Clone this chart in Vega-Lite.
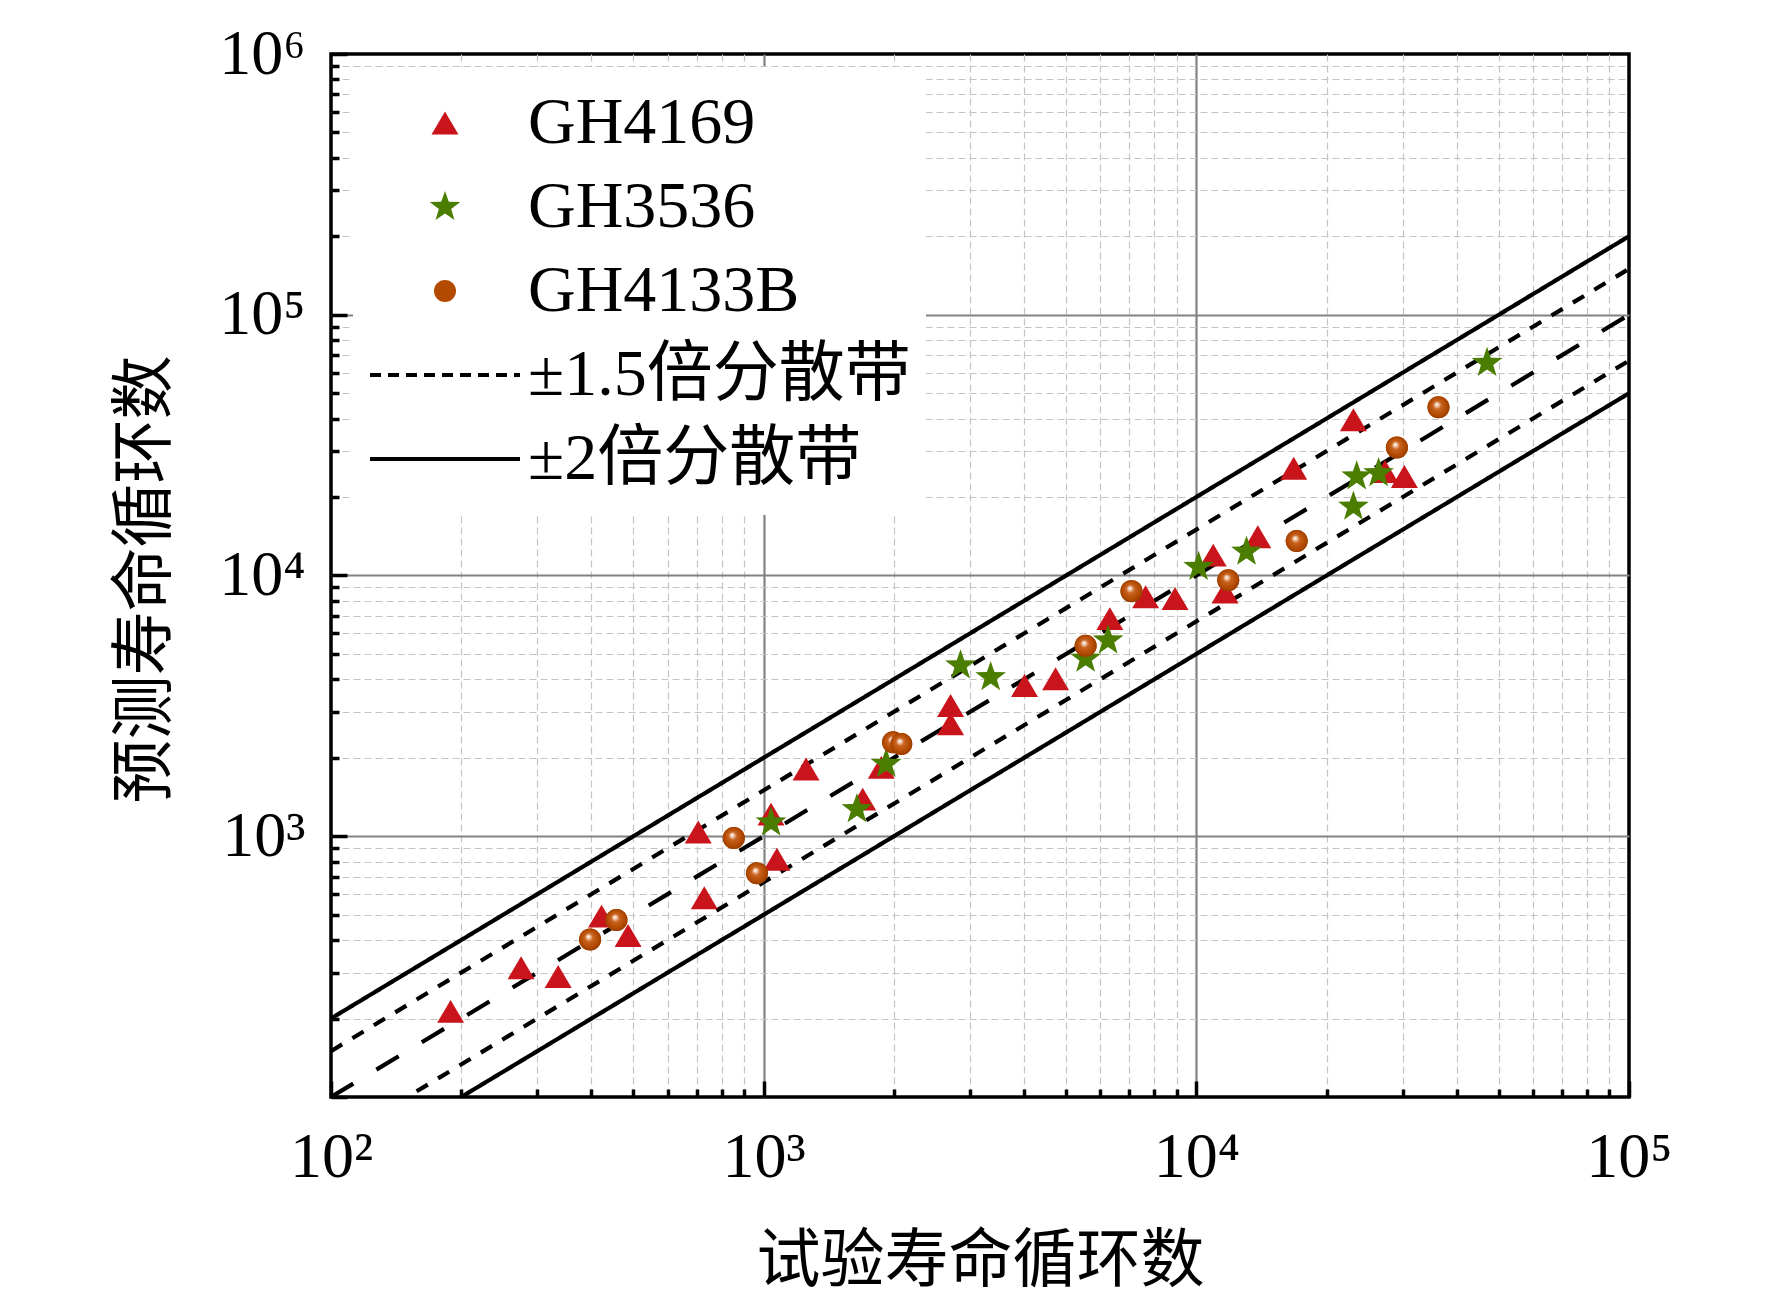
{
  "$schema": "https://vega.github.io/schema/vega-lite/v6.json",
  "width": 1298,
  "height": 1043,
  "autosize": {"type": "none"},
  "padding": {"left": 331, "top": 54, "right": 143, "bottom": 201},
  "background": "white",
  "config": {
    "view": {"stroke": "black", "strokeWidth": 3.5},
    "font": "Liberation Serif"
  },
  "datasets": {
    "bands": [
      {"band": "center", "line": "c", "x": 100, "y": 100},
      {"band": "center", "line": "c", "x": 100000, "y": 100000},
      {"band": "d15", "line": "d+", "x": 100, "y": 150},
      {"band": "d15", "line": "d+", "x": 100000, "y": 150000},
      {"band": "d15", "line": "d-", "x": 100, "y": 66.67},
      {"band": "d15", "line": "d-", "x": 100000, "y": 66667},
      {"band": "d2", "line": "s+", "x": 100, "y": 200},
      {"band": "d2", "line": "s+", "x": 100000, "y": 200000},
      {"band": "d2", "line": "s-", "x": 100, "y": 50},
      {"band": "d2", "line": "s-", "x": 100000, "y": 50000}
    ],
    "points": [
      {"series": "GH4169", "x": 189, "y": 213},
      {"series": "GH4169", "x": 275, "y": 313},
      {"series": "GH4169", "x": 335, "y": 290},
      {"series": "GH4169", "x": 422, "y": 494},
      {"series": "GH4169", "x": 486, "y": 416},
      {"series": "GH4169", "x": 729, "y": 581},
      {"series": "GH4169", "x": 706, "y": 1039},
      {"series": "GH4169", "x": 1073, "y": 816},
      {"series": "GH4169", "x": 1040, "y": 1216},
      {"series": "GH4169", "x": 1253, "y": 1810},
      {"series": "GH4169", "x": 1694, "y": 1388},
      {"series": "GH4169", "x": 1870, "y": 1837},
      {"series": "GH4169", "x": 2704, "y": 3170},
      {"series": "GH4169", "x": 2704, "y": 2697},
      {"series": "GH4169", "x": 4008, "y": 3784},
      {"series": "GH4169", "x": 4728, "y": 4015},
      {"series": "GH4169", "x": 6310, "y": 6833},
      {"series": "GH4169", "x": 7634, "y": 8285},
      {"series": "GH4169", "x": 8930, "y": 8165},
      {"series": "GH4169", "x": 10940, "y": 11970},
      {"series": "GH4169", "x": 11650, "y": 8650},
      {"series": "GH4169", "x": 13870, "y": 14090},
      {"series": "GH4169", "x": 16790, "y": 25800},
      {"series": "GH4169", "x": 23070, "y": 39540},
      {"series": "GH4169", "x": 27300, "y": 25060},
      {"series": "GH4169", "x": 30260, "y": 23990},
      {"series": "GH3536", "x": 1040, "y": 1129},
      {"series": "GH3536", "x": 1643, "y": 1270},
      {"series": "GH3536", "x": 1919, "y": 1892},
      {"series": "GH3536", "x": 2851, "y": 4521},
      {"series": "GH3536", "x": 3347, "y": 4075},
      {"series": "GH3536", "x": 5548, "y": 4795},
      {"series": "GH3536", "x": 6253, "y": 5636},
      {"series": "GH3536", "x": 10120, "y": 10790},
      {"series": "GH3536", "x": 13060, "y": 12330},
      {"series": "GH3536", "x": 23070, "y": 18370},
      {"series": "GH3536", "x": 23480, "y": 23990},
      {"series": "GH3536", "x": 26380, "y": 24670},
      {"series": "GH3536", "x": 46990, "y": 65310},
      {"series": "GH4133B", "x": 397, "y": 402},
      {"series": "GH4133B", "x": 457, "y": 477},
      {"series": "GH4133B", "x": 853, "y": 985},
      {"series": "GH4133B", "x": 965, "y": 721},
      {"series": "GH4133B", "x": 1991, "y": 2292},
      {"series": "GH4133B", "x": 2080, "y": 2258},
      {"series": "GH4133B", "x": 5548, "y": 5373},
      {"series": "GH4133B", "x": 7081, "y": 8710},
      {"series": "GH4133B", "x": 11850, "y": 9593},
      {"series": "GH4133B", "x": 17060, "y": 13550},
      {"series": "GH4133B", "x": 29080, "y": 30980},
      {"series": "GH4133B", "x": 36280, "y": 44160}
    ]
  },
  "encoding": {
    "x": {
      "field": "x",
      "type": "quantitative",
      "scale": {"type": "log", "domain": [100, 100000]},
      "axis": {
        "values": [100, 200, 300, 400, 500, 600, 700, 800, 900, 1000, 2000, 3000, 4000, 5000, 6000, 7000, 8000, 9000, 10000, 20000, 30000, 40000, 50000, 60000, 70000, 80000, 90000, 100000],
        "title": "试验寿命循环数",
        "titleFont": "Noto Sans CJK SC",
        "titleFontSize": 64,
        "titleFontWeight": "normal",
        "titleColor": "black",
        "titleX": 649,
        "titleY": 164,
        "titleAlign": "center",
        "titleBaseline": "middle",
        "labelExpr": "datum.value == 100 ? '10²' : datum.value == 1000 ? '10³' : datum.value == 10000 ? '10⁴' : datum.value == 100000 ? '10⁵' : ''",
        "labelFont": "Liberation Serif",
        "labelFontSize": 64,
        "labelColor": "black",
        "labelFlush": false,
        "labelOverlap": false,
        "labelPadding": 44,
        "domain": false,
        "tickColor": "black",
        "tickWidth": 3.5,
        "tickSize": {"condition": {"test": "indexof([100, 1000, 10000, 100000, 1000000], datum.value) >= 0", "value": -16}, "value": -8},
        "grid": true,
        "gridColor": {"condition": {"test": "indexof([100, 1000, 10000, 100000, 1000000], datum.value) >= 0", "value": "#828282"}, "value": "#c4c4c4"},
        "gridWidth": {"condition": {"test": "indexof([100, 1000, 10000, 100000, 1000000], datum.value) >= 0", "value": 2.2}, "value": 1.2},
        "gridDash": {"condition": {"test": "indexof([100, 1000, 10000, 100000, 1000000], datum.value) >= 0", "value": []}, "value": [7, 4]},
        "gridOpacity": {"condition": {"test": "datum.value == 100 || datum.value == 100000", "value": 0}, "value": 1}
      }
    },
    "y": {
      "field": "y",
      "type": "quantitative",
      "scale": {"type": "log", "domain": [100, 1000000]},
      "axis": {
        "values": [100, 200, 300, 400, 500, 600, 700, 800, 900, 1000, 2000, 3000, 4000, 5000, 6000, 7000, 8000, 9000, 10000, 20000, 30000, 40000, 50000, 60000, 70000, 80000, 90000, 100000, 200000, 300000, 400000, 500000, 600000, 700000, 800000, 900000, 1000000],
        "title": "预测寿命循环数",
        "titleFont": "Noto Sans CJK SC",
        "titleFontSize": 64,
        "titleFontWeight": "normal",
        "titleColor": "black",
        "titleX": -186,
        "titleY": 525,
        "titleAngle": -90,
        "titleAlign": "center",
        "titleBaseline": "middle",
        "labelExpr": "datum.value == 1000 ? '10³' : datum.value == 10000 ? '10⁴' : datum.value == 100000 ? '10⁵' : datum.value == 1000000 ? '10⁶' : ''",
        "labelFont": "Liberation Serif",
        "labelFontSize": 64,
        "labelColor": "black",
        "labelFlush": false,
        "labelOverlap": false,
        "labelPadding": 42,
        "domain": false,
        "tickColor": "black",
        "tickWidth": 3.5,
        "tickSize": {"condition": {"test": "indexof([100, 1000, 10000, 100000, 1000000], datum.value) >= 0", "value": -16}, "value": -8},
        "grid": true,
        "gridColor": {"condition": {"test": "indexof([100, 1000, 10000, 100000, 1000000], datum.value) >= 0", "value": "#828282"}, "value": "#c4c4c4"},
        "gridWidth": {"condition": {"test": "indexof([100, 1000, 10000, 100000, 1000000], datum.value) >= 0", "value": 2.2}, "value": 1.2},
        "gridDash": {"condition": {"test": "indexof([100, 1000, 10000, 100000, 1000000], datum.value) >= 0", "value": []}, "value": [7, 4]},
        "gridOpacity": {"condition": {"test": "datum.value == 100 || datum.value == 1000000", "value": 0}, "value": 1}
      }
    }
  },
  "layer": [
    {
      "data": {"name": "bands"},
      "mark": {"type": "line", "clip": true, "color": "black", "strokeWidth": 4.2},
      "encoding": {
        "detail": {"field": "line", "type": "nominal"},
        "strokeDash": {
          "field": "band",
          "type": "nominal",
          "scale": {"domain": ["center", "d15", "d2"], "range": [[26, 27], [13, 12], [1, 0]]},
          "legend": null
        }
      }
    },
    {
      "data": {"name": "points"},
      "mark": {"type": "point", "filled": true, "size": 22500, "opacity": 1, "strokeWidth": 0},
      "encoding": {
        "color": {
          "field": "series",
          "type": "nominal",
          "scale": {
            "domain": ["GH4169", "GH3536", "GH4133B", "±1.5倍分散带", "±2倍分散带"],
            "range": ["#C9141C", "#4A7D00", "#B34A00", "#000000", "#000000"]
          },
          "legend": {
            "title": null,
            "orient": "none",
            "legendX": 22,
            "legendY": 13,
            "direction": "vertical",
            "columns": 1,
            "fillColor": "white",
            "padding": 15,
            "symbolSize": 22500,
            "symbolStrokeWidth": 4,
            "clipHeight": 82,
            "rowPadding": 2,
            "labelOffset": 6,
            "symbolOffset": 0,
            "labelFont": "Liberation Serif, Noto Sans CJK SC",
            "labelFontSize": 66,
            "labelColor": "black",
            "labelLimit": 800,
            "encoding": {
              "symbols": {
                "fill": {"value": {"expr": "datum.value === 'GH4133B' ? {gradient: 'radial', x1: 0.42, y1: 0.36, r1: 0, x2: 0.5, y2: 0.5, r2: 0.55, stops: [{offset: 0, color: '#ffffff'}, {offset: 0.14, color: '#f1cdb4'}, {offset: 0.34, color: '#c8621e'}, {offset: 0.75, color: '#b04800'}, {offset: 1, color: '#8e3800'}]} : scale('color', datum.value)"}},
                "stroke": {"value": {"expr": "datum.value === '±1.5倍分散带' || datum.value === '±2倍分散带' ? '#000000' : 'transparent'"}},
                "strokeWidth": {"value": 4},
                "strokeDash": {"value": {"expr": "datum.value === '±1.5倍分散带' ? [11, 7] : [1, 0]"}},
                "opacity": {"value": 1}
              }
            }
          }
        },
        "shape": {
          "field": "series",
          "type": "nominal",
          "scale": {
            "domain": ["GH4169", "GH3536", "GH4133B", "±1.5倍分散带", "±2倍分散带"],
            "range": [
              "M0,-0.153L0.18,0.153L-0.18,0.153Z",
              "M0,-0.215L0.0506,-0.0696L0.2045,-0.0664L0.0818,0.0266L0.1264,0.1739L0,0.086L-0.1264,0.1739L-0.0818,0.0266L-0.2045,-0.0664L-0.0506,-0.0696Z",
              "M0.147,0A0.147,0.147,0,1,1,-0.147,0A0.147,0.147,0,1,1,0.147,0Z",
              "stroke",
              "stroke"
            ]
          },
          "legend": {
            "title": null,
            "orient": "none",
            "legendX": 22,
            "legendY": 13,
            "direction": "vertical",
            "columns": 1,
            "fillColor": "white",
            "padding": 15,
            "symbolSize": 22500,
            "symbolStrokeWidth": 4,
            "clipHeight": 82,
            "rowPadding": 2,
            "labelOffset": 6,
            "symbolOffset": 0,
            "labelFont": "Liberation Serif, Noto Sans CJK SC",
            "labelFontSize": 66,
            "labelColor": "black",
            "labelLimit": 800,
            "encoding": {
              "symbols": {
                "fill": {"value": {"expr": "datum.value === 'GH4133B' ? {gradient: 'radial', x1: 0.42, y1: 0.36, r1: 0, x2: 0.5, y2: 0.5, r2: 0.55, stops: [{offset: 0, color: '#ffffff'}, {offset: 0.14, color: '#f1cdb4'}, {offset: 0.34, color: '#c8621e'}, {offset: 0.75, color: '#b04800'}, {offset: 1, color: '#8e3800'}]} : scale('color', datum.value)"}},
                "stroke": {"value": {"expr": "datum.value === '±1.5倍分散带' || datum.value === '±2倍分散带' ? '#000000' : 'transparent'"}},
                "strokeWidth": {"value": 4},
                "strokeDash": {"value": {"expr": "datum.value === '±1.5倍分散带' ? [11, 7] : [1, 0]"}},
                "opacity": {"value": 1}
              }
            }
          }
        }
      }
    },
    {
      "data": {"name": "points"},
      "transform": [{"filter": "datum.series === 'GH4133B'"}],
      "mark": {
        "type": "point",
        "shape": "circle",
        "filled": true,
        "size": 484,
        "opacity": 1,
        "strokeWidth": 0,
        "fill": {
          "gradient": "radial",
          "x1": 0.42, "y1": 0.36, "r1": 0,
          "x2": 0.5, "y2": 0.5, "r2": 0.55,
          "stops": [
            {"offset": 0, "color": "#ffffff"},
            {"offset": 0.14, "color": "#f1cdb4"},
            {"offset": 0.34, "color": "#c8621e"},
            {"offset": 0.75, "color": "#b04800"},
            {"offset": 1, "color": "#8e3800"}
          ]
        }
      }
    }
  ]
}
